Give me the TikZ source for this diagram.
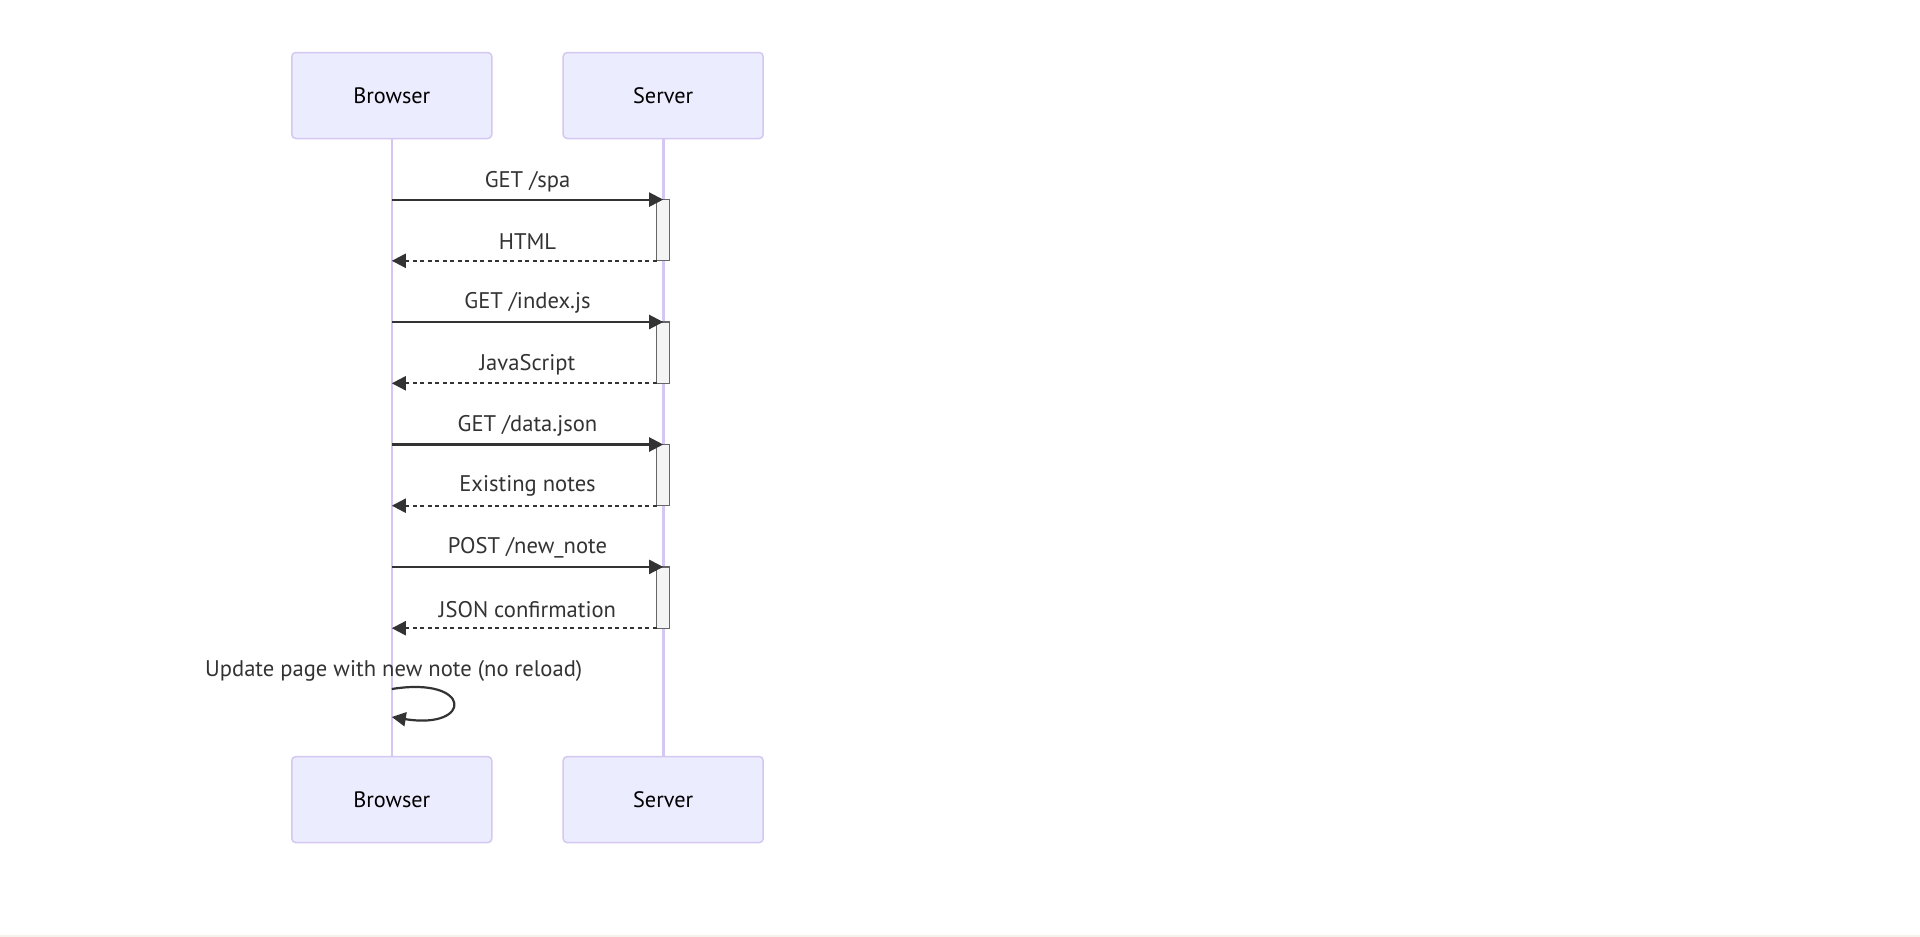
\documentclass[tikz,border=0pt]{standalone}
\usepackage{fontspec}
\setmainfont{PT Sans}
\usetikzlibrary{arrows.meta}
\definecolor{actfill}{HTML}{ECECFF}
\definecolor{actline}{HTML}{D4C8F2}
\definecolor{msgc}{HTML}{333333}
\definecolor{actvfill}{HTML}{F4F4F4}
\definecolor{actvline}{HTML}{666666}
\definecolor{strip}{HTML}{F4F2EA}
\newcommand{\actortext}[1]{\raisebox{-1.3pt}{#1}}
\tikzset{
  actor/.style={draw=actline, fill=actfill, line width=1.5pt, rounded corners=4pt,
    minimum width=200pt, minimum height=86pt, inner sep=0pt,
    font=\fontsize{22.3}{26}\selectfont, text=black},
  lifeline/.style={draw=actline, line width=2.6pt},
  actv/.style={draw=actvline, fill=actvfill, line width=1.3pt},
  msg/.style={draw=msgc, line width=2.2pt, -{Triangle[length=14pt,width=14pt]}},
  ret/.style={msg, dash pattern=on 4pt off 3.5pt},
  lbl/.style={font=\fontsize{22.6}{26}\selectfont, text=msgc, inner sep=0pt}
}
\begin{document}
\begin{tikzpicture}[x=1pt,y=-1pt]
\useasboundingbox (0,0) rectangle (1920,937);
\fill[white] (0,0) rectangle (1920,937);
\fill[strip] (0,934.5) rectangle (1920,937);
% actors
\node[actor] (bt) at (391.8,95.5) {\actortext{Browser}};
\node[actor] (st) at (663.2,95.5) {\actortext{Server}};
\node[actor] (bb) at (391.8,799.6) {\actortext{Browser}};
\node[actor] (sb) at (663.2,799.6) {\actortext{Server}};
% lifelines
\draw[lifeline] (bt.south) -- (bb.north);
\draw[lifeline] (st.south) -- (sb.north);
% message anchors
\foreach \i/\y in {1/199.6,2/260.8,3/322.0,4/383.3,5/444.5,6/505.7,7/566.9,8/628.2}{
  \coordinate (b\i) at (391.8,\y);
  \coordinate (s\i) at (663.2,\y);
  \coordinate (a\i) at (656.6,\y);
}
% activations
\foreach \i/\j in {1/2,3/4,5/6,7/8}{
  \draw[actv] ([xshift=-6.6pt]s\i) rectangle ([xshift=6.6pt]s\j);
}
% messages
\draw[msg] (b1) -- (s1);
\draw[ret] (a2) -- (b2);
\draw[msg] (b3) -- (s3);
\draw[ret] (a4) -- (b4);
\draw[msg] (b5) -- (s5);
\draw[ret] (a6) -- (b6);
\draw[msg] (b7) -- (s7);
\draw[ret] (a8) -- (b8);
% labels
\node[lbl] (l1) at (527.5,181.3) {GET /spa};
\node[lbl] (l2) at (527.5,241.3) {HTML};
\node[lbl] (l3) at (527.5,302.5) {GET /index.js};
\node[lbl] (l4) at (527.5,365.0) {JavaScript};
\node[lbl] (l5) at (527.5,426.2) {GET /data.json};
\node[lbl] (l6) at (527.5,486.2) {Existing notes};
\node[lbl] (l7) at (527.5,547.4) {POST /new\_note};
\node[lbl] (l8) at (527.5,609.9) {JSON confirmation};
% self message
\coordinate (c1) at (391.8,689);
\coordinate (c2) at (391.8,717);
\node[lbl] (l9) at (393.7,671.1) {Update page with new note (no reload)};
\draw[msg] (c1) .. controls (473,676) and (473,730) .. (c2);
\end{tikzpicture}
\end{document}
